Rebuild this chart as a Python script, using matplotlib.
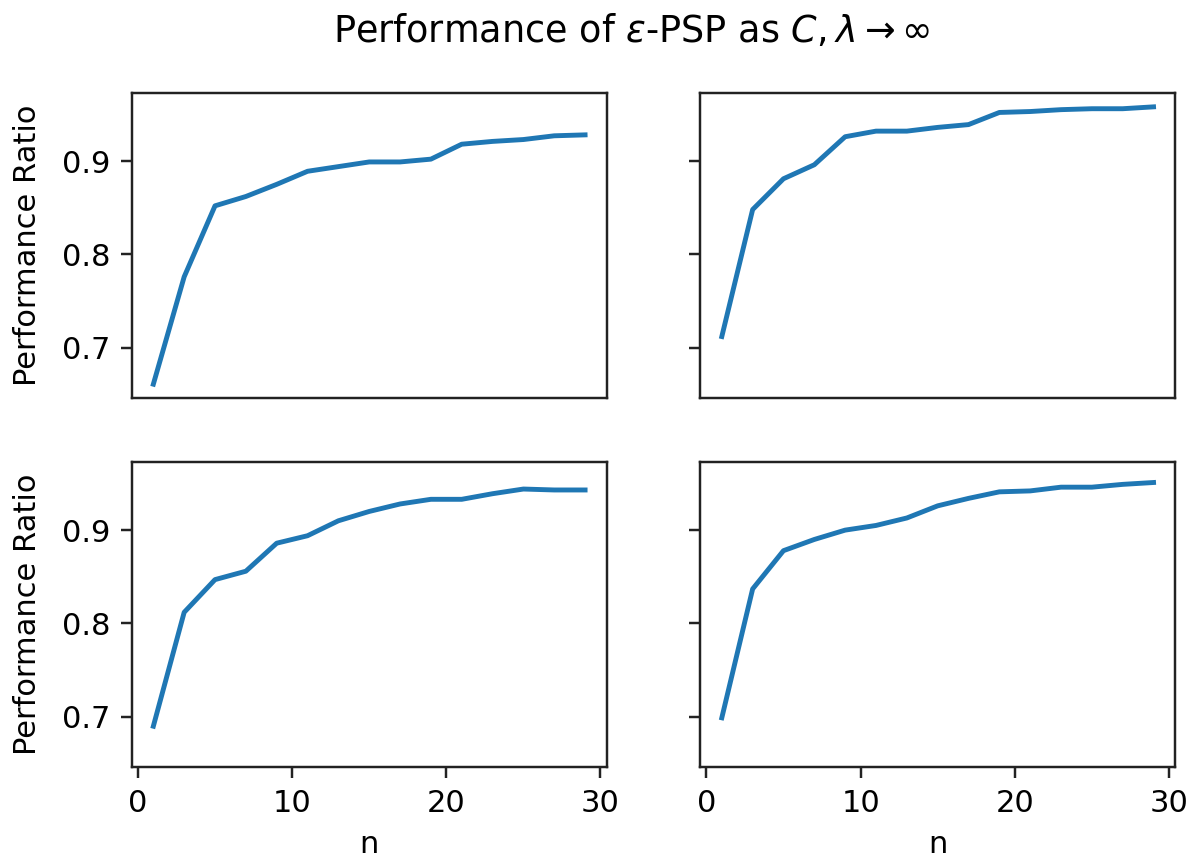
import matplotlib
matplotlib.use("Agg")
import matplotlib.pyplot as plt

n = [1, 3, 5, 7, 9, 11, 13, 15, 17, 19, 21, 23, 25, 27, 29]

ratio_top_left = [0.661, 0.776, 0.852, 0.862, 0.875, 0.889, 0.894, 0.899, 0.899,
                  0.902, 0.918, 0.921, 0.923, 0.927, 0.928]
ratio_top_right = [0.712, 0.848, 0.881, 0.896, 0.926, 0.932, 0.932, 0.936, 0.939,
                   0.952, 0.953, 0.955, 0.956, 0.956, 0.958]
ratio_bottom_left = [0.690, 0.812, 0.847, 0.856, 0.886, 0.894, 0.910, 0.920, 0.928,
                     0.933, 0.933, 0.939, 0.944, 0.943, 0.943]
ratio_bottom_right = [0.699, 0.837, 0.878, 0.890, 0.900, 0.905, 0.913, 0.926, 0.934,
                      0.941, 0.942, 0.946, 0.946, 0.949, 0.951]

series = [[ratio_top_left, ratio_top_right],
          [ratio_bottom_left, ratio_bottom_right]]

title = r"Performance of $\varepsilon$-PSP as $C, \lambda \rightarrow \infty$"
ylabel = "Performance Ratio"
xlabel = "n"
xticks = [0, 10, 20, 30]
yticks = [0.7, 0.8, 0.9]

dpi = 220
fig, axes = plt.subplots(2, 2, sharex=True, sharey=True,
                         figsize=(1187 / dpi, 861 / dpi), dpi=dpi)
fig.subplots_adjust(left=0.111, right=0.990, top=0.892, bottom=0.109,
                    wspace=0.197, hspace=0.21)

for i in range(2):
    for j in range(2):
        ax = axes[i][j]
        ax.plot(n, series[i][j], color="#1f77b4", linewidth=1.6)
        for sp in ax.spines.values():
            sp.set_edgecolor("#222222")
        ax.tick_params(colors="#222222", labelcolor="black")
        if i == 0:
            ax.tick_params(axis="x", bottom=False)
        else:
            ax.set_xlabel(xlabel)
        if j == 0:
            ax.set_ylabel(ylabel, labelpad=6.5)

axes[1][0].set_xticks(xticks)
axes[1][0].set_yticks(yticks)

fig.suptitle(title, x=0.532, y=0.985)

fig.savefig("out.png", dpi=dpi)
